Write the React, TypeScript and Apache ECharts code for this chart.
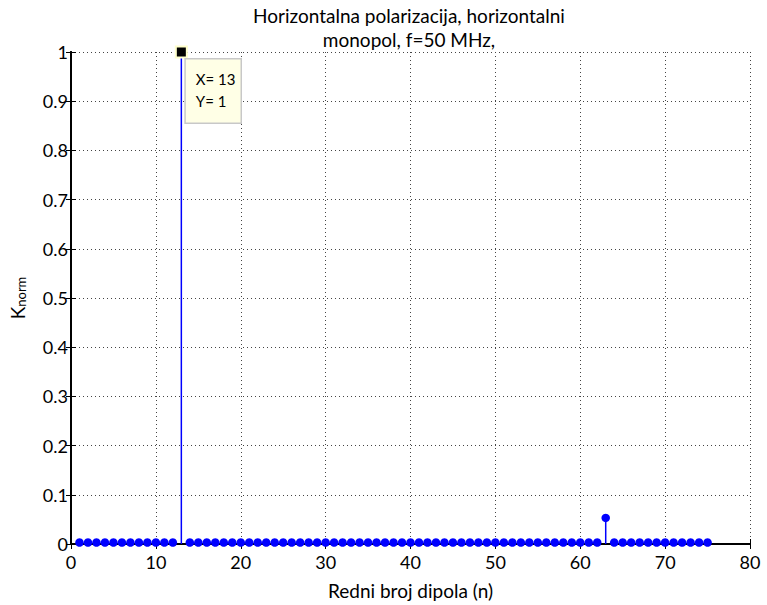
import React, { useEffect, useRef } from "react";
import * as echarts from "echarts";

const titleLines = ["Horizontalna polarizacija, horizontalni", "monopol, f=50 MHz,"];
const xLabel = "Redni broj dipola (n)";
const xTicks = [0, 80, 10];
const yTicks = [0, 1, 0.1];
const dipoles = [
  1, 2, 3, 4, 5, 6, 7, 8, 9, 10, 11, 12, 13, 14, 15, 16, 17, 18, 19, 20, 21, 22, 23, 24, 25,
  26, 27, 28, 29, 30, 31, 32, 33, 34, 35, 36, 37, 38, 39, 40, 41, 42, 43, 44, 45, 46, 47, 48, 49, 50,
  51, 52, 53, 54, 55, 56, 57, 58, 59, 60, 61, 62, 63, 64, 65, 66, 67, 68, 69, 70, 71, 72, 73, 74, 75,
];
const kNorm = [
  0.003, 0.003, 0.003, 0.003, 0.003, 0.003, 0.003, 0.003, 0.003, 0.003, 0.003, 0.003, 1, 0.003, 0.003,
  0.003, 0.003, 0.003, 0.003, 0.003, 0.003, 0.003, 0.003, 0.003, 0.003, 0.003, 0.003, 0.003, 0.003, 0.003,
  0.003, 0.003, 0.003, 0.003, 0.003, 0.003, 0.003, 0.003, 0.003, 0.003, 0.003, 0.003, 0.003, 0.003, 0.003,
  0.003, 0.003, 0.003, 0.003, 0.003, 0.003, 0.003, 0.003, 0.003, 0.003, 0.003, 0.003, 0.003, 0.003, 0.003,
  0.003, 0.003, 0.053, 0.003, 0.003, 0.003, 0.003, 0.003, 0.003, 0.003, 0.003, 0.003, 0.003, 0.003, 0.003,
];
const tipPoint = [13, 1];

const FONT = "Lato, 'Open Sans', sans-serif";

export default function App() {
  const ref = useRef<HTMLDivElement>(null);
  useEffect(() => {
    document.body.style.margin = "0";
    const chart = echarts.init(ref.current!, null, { renderer: "svg" });
    const pts = dipoles.map((n, i) => [n, kNorm[i]]);
    const axisLine = { show: true, lineStyle: { color: "#000", width: 2 } };
    const tick = { show: true, inside: true, length: 5, lineStyle: { color: "#000", width: 1 } };
    const grid = { show: true, lineStyle: { color: "#444", type: [1, 3], width: 1 } };
    chart.setOption({
      animation: false,
      backgroundColor: "#fff",
      textStyle: { fontFamily: FONT },
      title: {
        text: titleLines.join("\n"),
        left: 409,
        textAlign: "center",
        top: 3,
        padding: 0,
        textStyle: { fontSize: 19, fontWeight: "normal", color: "#000", lineHeight: 24, fontFamily: FONT },
      },
      grid: { left: 67, right: 17, top: 52, bottom: 61, containLabel: false },
      xAxis: [
        {
          type: "value",
          min: xTicks[0],
          max: xTicks[1],
          interval: xTicks[2],
          axisLine,
          axisTick: tick,
          splitLine: grid,
          axisLabel: { color: "#000", fontSize: 18, margin: 9, fontFamily: FONT },
          name: xLabel,
          nameLocation: "middle",
          nameGap: 37,
          nameTextStyle: { color: "#000", fontSize: 19, fontFamily: FONT },
        },
        {
          type: "value",
          position: "top",
          min: xTicks[0],
          max: xTicks[1],
          interval: xTicks[2],
          axisLine,
          axisTick: tick,
          splitLine: { show: false },
          axisLabel: { show: false },
        },
      ],
      yAxis: [
        {
          type: "value",
          min: yTicks[0],
          max: yTicks[1],
          interval: yTicks[2],
          axisLine,
          axisTick: tick,
          splitLine: grid,
          axisLabel: { color: "#000", fontSize: 18, margin: 3, fontFamily: FONT },
          name: "{a|K}{b|norm}",
          nameLocation: "middle",
          nameGap: 44,
          nameRotate: 90,
          nameTextStyle: {
            color: "#000",
            fontFamily: FONT,
            rich: {
              a: { fontSize: 19, color: "#000", fontFamily: FONT, verticalAlign: "bottom", lineHeight: 22 },
              b: { fontSize: 13, color: "#000", fontFamily: FONT, verticalAlign: "bottom", lineHeight: 18 },
            },
          },
        },
        {
          type: "value",
          position: "right",
          min: yTicks[0],
          max: yTicks[1],
          interval: yTicks[2],
          axisLine,
          axisTick: tick,
          splitLine: { show: false },
          axisLabel: { show: false },
        },
      ],
      series: [
        {
          type: "custom",
          xAxisIndex: 0,
          yAxisIndex: 0,
          data: pts,
          renderItem: (params: any, api: any) => {
            const p0 = api.coord([api.value(0), 0]);
            const p1 = api.coord([api.value(0), api.value(1)]);
            return {
              type: "line",
              shape: { x1: p0[0], y1: p0[1], x2: p1[0], y2: p1[1] },
              style: { stroke: "#0000ff", lineWidth: 1.5 },
            };
          },
          z: 3,
        },
        {
          type: "scatter",
          data: pts,
          symbol: "circle",
          symbolSize: 8.5,
          itemStyle: { color: "#0000ff", opacity: 1 },
          z: 4,
        },
        {
          type: "scatter",
          data: [tipPoint],
          symbol: "rect",
          symbolSize: 11,
          clip: false,
          itemStyle: { color: "#000", borderColor: "#ffffcc", borderWidth: 2, opacity: 1 },
          label: {
            show: true,
            formatter: () => `X= ${tipPoint[0]}\nY= ${tipPoint[1]}`,
            position: [11, 14],
            color: "#000",
            fontSize: 15,
            lineHeight: 22,
            fontFamily: FONT,
            align: "left",
            verticalAlign: "top",
            backgroundColor: "#ffffe6",
            borderColor: "#c8c8c8",
            borderWidth: 1.5,
            padding: [8, 5, 11, 10],
          },
          z: 10,
        },
      ],
    });
    return () => chart.dispose();
  }, []);
  return <div ref={ref} style={{ width: 767, height: 605 }} />;
}
